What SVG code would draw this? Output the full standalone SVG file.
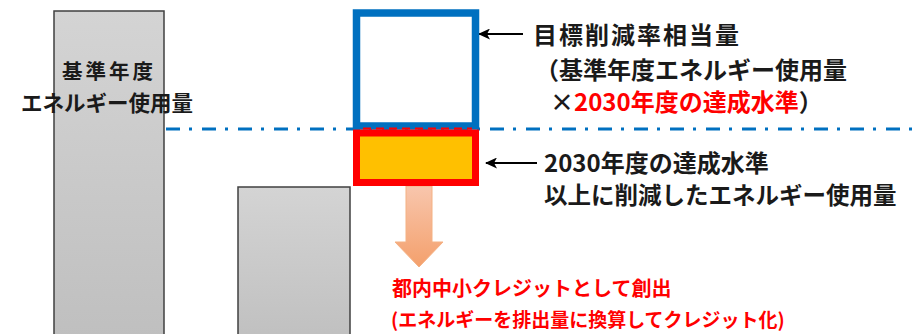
<svg xmlns="http://www.w3.org/2000/svg" width="916" height="334" viewBox="0 0 916 334">
<style>
text{font-family:"Noto Sans CJK JP","Noto Sans",sans-serif;font-weight:bold;}
.blk{fill:#1a1a1a;}
.red{fill:#ff0000;}
.bar{fill:url(#gray);stroke:#404040;stroke-width:1.5;}
.ptr{stroke:#000;stroke-width:2.2;fill:none;marker-end:url(#ah);}
</style>
<defs>
<linearGradient id="gray" x1="0" y1="0" x2="0" y2="1"><stop offset="0" stop-color="#d4d4d4"/><stop offset="1" stop-color="#bfbfbf"/></linearGradient>
<linearGradient id="og" x1="0" y1="0" x2="0" y2="1"><stop offset="0" stop-color="#f8c6ad"/><stop offset="1" stop-color="#f4a06c"/></linearGradient>
<marker id="ah" markerWidth="12" markerHeight="11" refX="11" refY="5.5" orient="auto" markerUnits="userSpaceOnUse" viewBox="0 0 12 11"><path d="M0,0 L12,5.5 L0,11 L3,5.5 Z" fill="#000"/></marker>
</defs>
<g id="bar-base">
<rect class="bar" x="54" y="11" width="110" height="330"/>
<text class="blk" x="109" y="79" font-size="20.5" letter-spacing="3" text-anchor="middle">基準年度</text>
<text class="blk" x="107" y="110.5" font-size="21.5" text-anchor="middle">エネルギー使用量</text>
</g>
<g id="bar-2030">
<rect class="bar" x="238" y="187" width="112" height="160"/>
</g>
<g id="connectors">
<line x1="166" y1="129" x2="916" y2="129" stroke="#0070c0" stroke-width="3" stroke-dasharray="14 9 3 10"/>
<line class="ptr" x1="523" y1="34" x2="479" y2="34"/>
<line class="ptr" x1="537" y1="163" x2="486" y2="163"/>
<path d="M406,186 H432 V242 H443 L419,267 L395,242 H406 Z" fill="url(#og)" stroke="#f4b183" stroke-width="1"/>
</g>
<g id="target-box">
<rect x="356.5" y="13" width="119" height="113" fill="#fff" stroke="#0070c0" stroke-width="7.5"/>
</g>
<g id="reduced-box">
<rect x="356.5" y="133" width="119" height="49.5" fill="#ffc000" stroke="#ff0000" stroke-width="7"/>
<line x1="363" y1="128.5" x2="472" y2="128.5" stroke="#ff0000" stroke-width="2" stroke-dasharray="8 5"/>
</g>
<g id="label-target">
<text class="blk" x="533" y="44" font-size="24" letter-spacing="2">目標削減率相当量</text>
<text class="blk" x="535" y="79" font-size="24">（基準年度エネルギー使用量</text>
<text class="blk" x="550" y="111" font-size="24">×<tspan class="red">2030年度の達成水準</tspan>）</text>
</g>
<g id="label-reduced">
<text class="blk" x="544" y="172" font-size="24">2030年度の達成水準</text>
<text class="blk" x="544" y="204" font-size="23.5">以上に削減したエネルギー使用量</text>
</g>
<g id="label-credit">
<text class="red" x="392" y="296" font-size="20">都内中小クレジットとして創出</text>
<text class="red" x="391" y="327" font-size="19">(エネルギーを排出量に換算してクレジット化)</text>
</g>
</svg>
